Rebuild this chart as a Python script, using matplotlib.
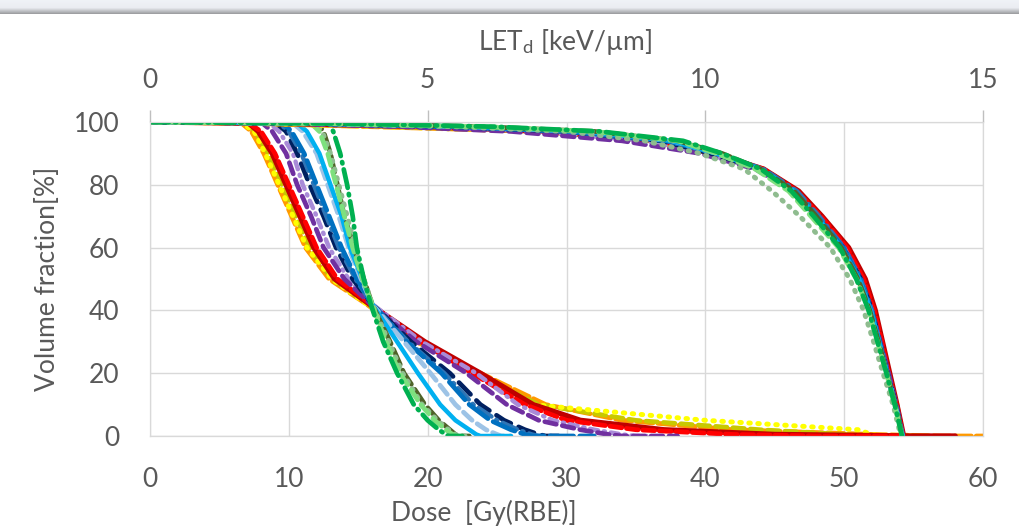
import numpy as np
import matplotlib
matplotlib.use("Agg")
import matplotlib.pyplot as plt

plt.rcParams['font.family'] = ['Lato', 'DejaVu Sans']
plt.rcParams['mathtext.fontset'] = 'custom'
plt.rcParams['mathtext.rm'] = 'Lato'
plt.rcParams['mathtext.it'] = 'Lato:italic'

# Dose-volume histograms: common volume levels [%], dose [Gy(RBE)] per series
dvh_vol = [100, 100, 97, 90, 80, 70, 60, 50, 42, 30, 20, 10, 5, 2, 0.5, 0, 0]
dose_darkred = [0, 7, 7.8, 8.8, 9.8, 10.8, 11.8, 13.3, 15.8, 19.8, 23.8, 27.6, 31, 37, 45, 55, 58]
dose_red = [0, 7, 8, 9, 10, 11, 12, 13.5, 15.9, 19.5, 23.2, 27, 30, 35, 42, 48, 54]
dose_orange = [0, 6.5, 7.3, 8.2, 9.2, 10.2, 11.2, 12.9, 15.6, 19.2, 23.8, 28.5, 34, 42, 52, 57, 60]
dose_yellow = [0, 6.5, 7.5, 8.3, 9.3, 10.3, 11.3, 13.1, 15.6, 19.5, 23.6, 27.5, 40, 51, 52, 52.5, 55]
dose_darkyellow = [0, 6.8, 7.6, 8.5, 9.5, 10.5, 11.5, 13.1, 15.7, 19.4, 23.4, 28, 35, 44, 50, 52, 56]
dose_purple = [0, 8, 8.8, 9.8, 10.6, 11.6, 12.5, 14, 15.9, 19.2, 22.8, 25.7, 28, 31, 33, 34, 38]
dose_lavender = [0, 8.5, 9.3, 10.3, 11, 12, 12.9, 14.3, 16, 19.6, 23.5, 26.5, 29, 32, 34, 35, 36]
dose_navy = [0, 9, 9.8, 10.6, 11.5, 12.5, 13.4, 14.6, 16, 18.8, 21.6, 23.8, 25.5, 27, 28, 28.5, 30]
dose_blue = [0, 9.5, 10.2, 11.1, 12, 12.9, 13.8, 14.9, 16, 18.5, 21, 23, 24.5, 26, 27, 27.5, 32]
dose_midblue = [0, 9.2, 10, 10.9, 11.8, 12.7, 13.6, 14.8, 16, 18.6, 21.2, 23.3, 25, 26.5, 27.5, 28, 29]
dose_lightblue = [0, 10.5, 11.3, 12.2, 13, 13.8, 14.4, 15.3, 16, 17.8, 19.3, 20.9, 22, 23, 23.5, 23.8, 26]
dose_paleblue = [0, 10.2, 11, 12, 12.8, 13.6, 14.3, 15.2, 16, 18.3, 20.2, 22, 23.2, 24.2, 25, 25.3, 26]
dose_darkgreen = [0, 12, 12.5, 13, 13.5, 14, 14.7, 15.4, 16, 17.3, 18.3, 19.8, 20.8, 21.6, 22, 22.2, 23]
dose_green = [0, 12.8, 13.2, 13.7, 14.2, 14.6, 14.9, 15.4, 15.9, 16.8, 17.8, 19, 20, 20.8, 21.3, 21.5, 22.5]
dose_lightgreen = [0, 11.5, 12.2, 12.8, 13.4, 14, 14.6, 15.3, 16, 17, 18, 19.5, 20.5, 21.3, 21.8, 22, 22.5]
dose_sage = [0, 11.8, 12.4, 13, 13.6, 14.2, 14.8, 15.4, 16, 17.2, 18.2, 19.6, 20.7, 21.5, 22, 22.3, 23]

# LET-volume histograms: common volume levels [%], LETd [keV/um] per series
lvh_vol = [100, 99.5, 98.5, 97, 94, 90, 85, 78, 70, 60, 50, 40, 30, 20, 10, 0]
let_darkred = [0, 2.5, 5.0, 7.2, 9.2, 10.15, 11.05, 11.68, 12.1, 12.58, 12.88, 13.06, 13.19, 13.32, 13.45, 13.57]
let_red = [0, 2.8, 5.2, 7.3, 9.2, 10.15, 11.05, 11.65, 12.08, 12.55, 12.85, 13.04, 13.18, 13.3, 13.44, 13.56]
let_orange = [0, 2.0, 4.0, 7.0, 9.0, 10.1, 11.0, 11.65, 12.08, 12.55, 12.85, 13.05, 13.18, 13.3, 13.45, 13.56]
let_yellow = [0, 2.0, 4.2, 7.0, 9.1, 10.1, 11.0, 11.6, 12.0, 12.5, 12.8, 13.0, 13.15, 13.3, 13.44, 13.55]
let_darkyellow = [0, 2.2, 4.5, 7.1, 9.1, 10.1, 11.0, 11.6, 12.05, 12.5, 12.82, 13.02, 13.16, 13.3, 13.44, 13.55]
let_purple = [0, 2.5, 4.5, 6.5, 8.5, 9.9, 10.9, 11.6, 12.0, 12.5, 12.8, 13.0, 13.15, 13.3, 13.44, 13.56]
let_lavender = [0, 2.8, 5.0, 7.0, 8.9, 10.0, 10.95, 11.6, 12.0, 12.5, 12.8, 13.0, 13.14, 13.29, 13.43, 13.55]
let_navy = [0, 3.0, 5.5, 7.5, 9.2, 10.1, 11.0, 11.6, 12.0, 12.48, 12.8, 13.0, 13.14, 13.28, 13.43, 13.55]
let_blue = [0, 3.0, 5.5, 7.5, 9.3, 10.2, 11.0, 11.6, 12.0, 12.48, 12.78, 12.98, 13.13, 13.27, 13.42, 13.55]
let_midblue = [0, 3.0, 5.6, 7.6, 9.3, 10.2, 11.05, 11.65, 12.05, 12.5, 12.8, 13.0, 13.14, 13.28, 13.42, 13.55]
let_lightblue = [0, 3.2, 5.8, 7.8, 9.4, 10.2, 11.0, 11.6, 12.0, 12.45, 12.77, 12.98, 13.13, 13.27, 13.42, 13.55]
let_paleblue = [0, 3.2, 5.8, 7.8, 9.4, 10.2, 11.0, 11.55, 11.95, 12.42, 12.75, 12.97, 13.12, 13.27, 13.42, 13.55]
let_darkgreen = [0, 3.5, 6.0, 8.0, 9.5, 10.3, 11.0, 11.6, 12.0, 12.45, 12.75, 12.96, 13.12, 13.27, 13.42, 13.55]
let_green = [0, 3.5, 6.2, 8.1, 9.6, 10.3, 11.0, 11.55, 11.95, 12.42, 12.72, 12.94, 13.1, 13.26, 13.41, 13.54]
let_lightgreen = [0, 3.2, 6.0, 8.0, 9.5, 10.2, 10.9, 11.5, 11.9, 12.4, 12.72, 12.94, 13.1, 13.26, 13.41, 13.54]
let_sage = [0, 3.0, 5.5, 7.5, 8.9, 9.9, 10.7, 11.2, 11.7, 12.25, 12.6, 12.85, 13.03, 13.2, 13.38, 13.52]

# colour, linestyle, linewidth for every series (same order in both histograms)
series = [
    (dose_orange, let_orange, '#FF9900', (0, (3.5, 1.0)), 3.4),
    (dose_darkyellow, let_darkyellow, '#C8C800', (0, (2.5, 1.3)), 3.3),
    (dose_yellow, let_yellow, '#FFFF00', (0, (0.3, 1.5)), 3.6),
    (dose_darkred, let_darkred, '#C00000', '-', 3.8),
    (dose_red, let_red, '#FF0000', (0, (2.5, 1.0)), 3.4),
    (dose_lavender, let_lavender, '#A98BD8', (0, (1.8, 1.3, 0.3, 1.3)), 3.2),
    (dose_purple, let_purple, '#7030A0', (0, (2.5, 1.3)), 3.4),
    (dose_navy, let_navy, '#002060', (0, (3.5, 1.8)), 3.4),
    (dose_midblue, let_midblue, '#2E75B6', (0, (3.5, 1.3, 0.3, 1.3)), 3.2),
    (dose_blue, let_blue, '#0070C0', (0, (5, 1.3)), 3.4),
    (dose_paleblue, let_paleblue, '#9DC3E6', (0, (2.5, 1.3)), 3.4),
    (dose_lightblue, let_lightblue, '#00B0F0', '-', 3.2),
    (dose_darkgreen, let_darkgreen, '#4F6228', (0, (3.5, 1.3)), 3.4),
    (dose_sage, let_sage, '#8FBC8F', (0, (0.3, 1.5)), 3.6),
    (dose_lightgreen, let_lightgreen, '#7EE07E', (0, (2.5, 1.3)), 3.4),
    (dose_green, let_green, '#00B050', (0, (4, 1.3, 0.3, 1.3)), 3.4),
]

fig = plt.figure(figsize=(10.2, 5.29), dpi=100)

# grey banner strip at the very top
band = fig.add_axes([0, 1 - 14 / 529, 1, 14 / 529])
grad = np.concatenate([np.linspace(0.94, 0.92, 8), np.linspace(0.88, 0.62, 6)])
rgb = (grad[:, None, None] * np.array([1.0, 1.01, 1.03])[None, None, :]).clip(0, 1)
band.imshow(rgb, aspect='auto', extent=[0, 1, 0, 1])
band.set_xlim(0, 1)
band.set_ylim(0, 1)
band.axis('off')

ax = fig.add_axes([150 / 1020, 1 - 436 / 529, 833 / 1020, 314 / 529])
ax2 = ax.twiny()

grid_c = '#D9D9D9'
text_c = '#595959'

for dose, let, c, ls, lw in series:
    ax2.plot(let, lvh_vol, color=c, ls=ls, lw=lw, dash_capstyle='round', solid_capstyle='round')
for dose, let, c, ls, lw in series:
    ax.plot(dose, dvh_vol, color=c, ls=ls, lw=lw, dash_capstyle='round', solid_capstyle='round')

ax.set_xlim(0, 60)
ax.set_ylim(0, 100)
ax2.set_xlim(0, 15)
ax.set_xticks(range(0, 61, 10))
ax.set_yticks(range(0, 101, 20))
ax2.set_xticks([0, 5, 10, 15])
ax.grid(True, color=grid_c, lw=1)
ax.set_axisbelow(True)

for a in (ax, ax2):
    for s in a.spines.values():
        s.set_color(grid_c)
ax.spines['bottom'].set_color('#BFBFBF')

ax.tick_params(axis='x', length=0, pad=22, labelsize=19, labelcolor=text_c)
ax.tick_params(axis='y', length=0, pad=22, labelsize=19, labelcolor=text_c)
ax2.tick_params(axis='x', direction='out', length=9, width=1, color='#BFBFBF',
                pad=12, labelsize=19, labelcolor=text_c)

fig.text(48 / 1020, 1 - 279 / 529, 'Volume fraction[%]', rotation=90, ha='center', va='center',
         fontsize=19, color=text_c)
fig.text(484 / 1020, 1 - 513 / 529, 'Dose  [Gy(RBE)]', ha='center', va='center',
         fontsize=19, color=text_c)
fig.text(565 / 1020, 1 - 42 / 529, r'LET$_\mathrm{d}$ [keV/µm]', ha='center', va='center',
         fontsize=19, color=text_c)

fig.savefig('out.png', dpi=100, facecolor='white')
